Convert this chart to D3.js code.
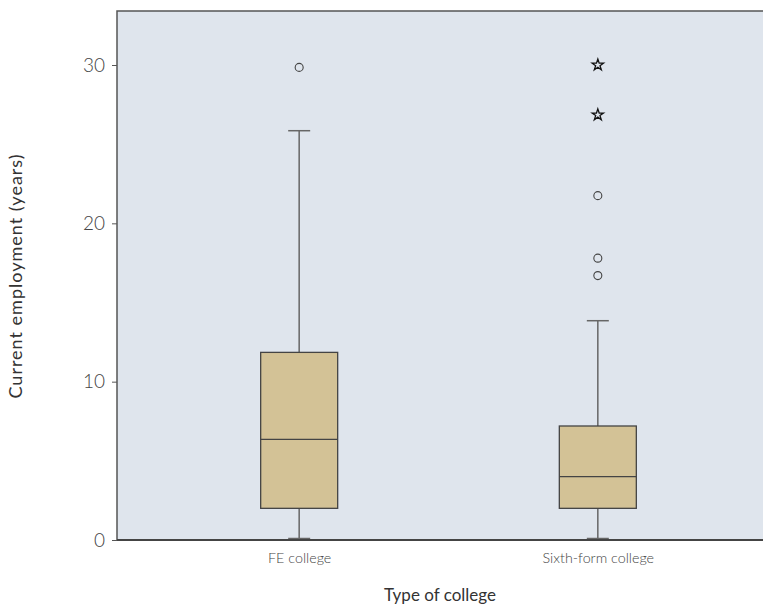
<!DOCTYPE html>
<html><head><meta charset="utf-8">
<script src="https://cdn.jsdelivr.net/npm/d3@7"></script>
<style>
body{margin:0;background:#fff;}
text{font-family:Lato,"Open Sans",sans-serif;}
</style></head>
<body><svg id="c" width="763" height="608"></svg>
<script>
const categories = ["FE college", "Sixth-form college"];
const q1 = [2.0, 2.0];
const medians = [6.35, 4.0];
const q3 = [11.85, 7.2];
const whiskerLow = [0, 0];
const whiskerHigh = [25.85, 13.85];
const outlierCat = ["FE college", "Sixth-form college", "Sixth-form college", "Sixth-form college"];
const outlierVal = [29.85, 21.75, 17.8, 16.7];
const extremeCat = ["Sixth-form college", "Sixth-form college"];
const extremeVal = [30.0, 26.85];
const yTicks = [0, 10, 20, 30];

const svg = d3.select("#c");
const pLeft = 117, pTop = 11, pBottom = 540, pRight = 780;
const y = d3.scaleLinear().domain([0, 30]).range([pBottom, 65]);
const x = d3.scalePoint().domain(categories).range([pLeft, pRight]).padding(0.61);
const boxW = 77, capW = 22;

svg.append("rect").attr("x", pLeft).attr("y", pTop).attr("width", pRight - pLeft).attr("height", pBottom - pTop)
  .attr("fill", "#dfe5ed").attr("stroke", "#555").attr("stroke-width", 1.5);

const g = svg.append("g");
categories.forEach((c, i) => {
  const cx = x(c);
  g.append("line").attr("x1", cx).attr("x2", cx).attr("y1", y(whiskerHigh[i])).attr("y2", y(q3[i]))
    .attr("stroke", "#666").attr("stroke-width", 1.5);
  g.append("line").attr("x1", cx).attr("x2", cx).attr("y1", y(q1[i])).attr("y2", y(whiskerLow[i]))
    .attr("stroke", "#666").attr("stroke-width", 1.5);
  [whiskerHigh[i], whiskerLow[i]].forEach(v => {
    g.append("line").attr("x1", cx - capW / 2).attr("x2", cx + capW / 2).attr("y1", y(v) - (v === 0 ? 1.5 : 0)).attr("y2", y(v) - (v === 0 ? 1.5 : 0))
      .attr("stroke", "#666").attr("stroke-width", 1.5);
  });
  g.append("rect").attr("x", cx - boxW / 2).attr("width", boxW).attr("y", y(q3[i])).attr("height", y(q1[i]) - y(q3[i]))
    .attr("fill", "#d3c296").attr("stroke", "#444").attr("stroke-width", 1.3);
  g.append("line").attr("x1", cx - boxW / 2).attr("x2", cx + boxW / 2).attr("y1", y(medians[i])).attr("y2", y(medians[i]))
    .attr("stroke", "#444").attr("stroke-width", 1.3);
});

g.selectAll("circle.out").data(outlierVal).enter().append("circle")
  .attr("cx", (d, i) => x(outlierCat[i])).attr("cy", d => y(d)).attr("r", 4)
  .attr("fill", "none").attr("stroke", "#444").attr("stroke-width", 1.1);
const star = d3.symbol().type(d3.symbolStar).size(40);
g.selectAll("path.ext").data(extremeVal).enter().append("path")
  .attr("d", star).attr("transform", (d, i) => `translate(${x(extremeCat[i])},${y(d)})`)
  .attr("fill", "none").attr("stroke", "#111").attr("stroke-width", 1.3);

// axes
const ya = svg.append("g").attr("transform", `translate(${pLeft},0)`)
  .call(d3.axisLeft(y).tickValues(yTicks).tickSize(5).tickPadding(7));
ya.select(".domain").remove();
ya.selectAll(".tick line").attr("stroke", "#555");
ya.selectAll(".tick text").attr("font-size", 19).attr("font-weight", 300).attr("fill", "#444");

const xa = svg.append("g").attr("transform", `translate(0,${pBottom})`)
  .call(d3.axisBottom(x).tickSize(0).tickPadding(13));
xa.select(".domain").remove();
xa.selectAll(".tick text").attr("font-size", 14.3).attr("font-weight", 300).attr("fill", "#444");
svg.append("line").attr("x1", pLeft).attr("x2", pRight).attr("y1", pBottom).attr("y2", pBottom)
  .attr("stroke", "#444").attr("stroke-width", 2);

svg.append("text").attr("x", 440).attr("y", 601).attr("text-anchor", "middle")
  .attr("font-size", 17).attr("fill", "#333").text("Type of college");
svg.append("text").attr("transform", "translate(22,276) rotate(-90)").attr("text-anchor", "middle")
  .attr("font-size", 18).attr("letter-spacing", 1).attr("fill", "#333").text("Current employment (years)");
</script></body></html>
